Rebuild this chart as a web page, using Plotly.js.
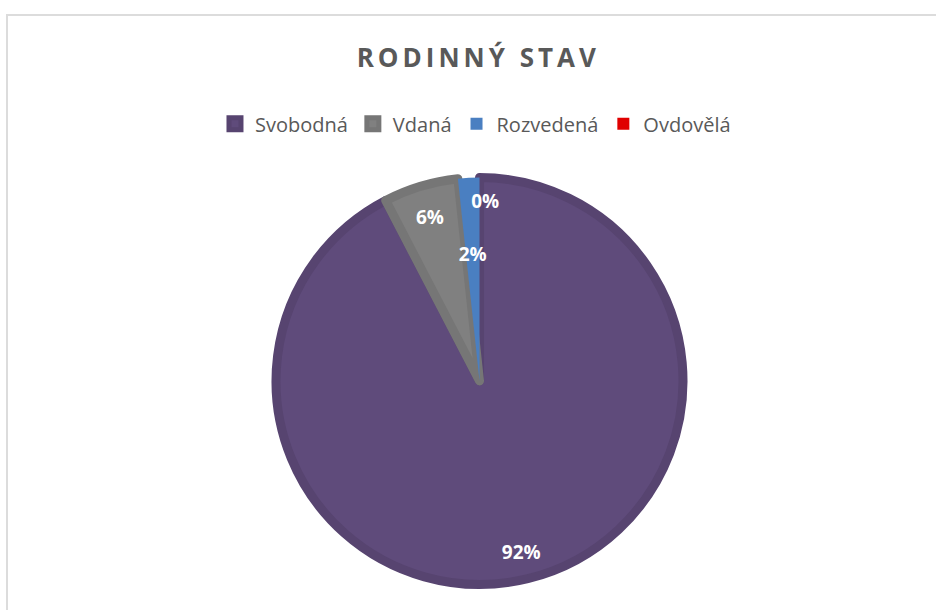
<!DOCTYPE html>
<html>
<head>
<meta charset="utf-8">
<script src="https://cdn.plot.ly/plotly-3.0.1.min.js"></script>
<style>
html, body { margin: 0; padding: 0; background: #ffffff; overflow: hidden; }
#chart { width: 936px; height: 610px; }
#frame { position: absolute; left: 6px; top: 14px; width: 960px; height: 640px;
         border-left: 2px solid #dcdcdc; border-top: 2px solid #dcdcdc; pointer-events: none; }
.gtitle { letter-spacing: 4px; }
</style>
</head>
<body>
<div id="chart"></div>
<div id="frame"></div>
<script>
// ---- data ----
const categories = ['Svobodná', 'Vdaná', 'Rozvedená', 'Ovdovělá'];
const counts = [109, 7, 2, 0];
const chartTitle = 'RODINNÝ STAV';

// ---- styles ----
const fillColors = ['#5f4b7b', '#808080', '#4a7fc1', '#e00000'];
const edgeColors = ['#574470', '#767676', '#4a7fc1', '#e00000'];
const edgeWidths = [9, 9, 0, 0];
const pct = '%{percent:.0%}';
const labelFont = { family: 'Open Sans, sans-serif', size: 19, color: '#ffffff', weight: 700 };
const clear = categories.map(() => 'rgba(0,0,0,0)');
const mainDomain = { x: [0.2949, 0.7297], y: [0.0418, 0.709] };

// which slice labels each pie layer shows (label placement like the original)
function labelsFor(indices) {
  return categories.map((c, i) => indices.includes(i) ? pct : '');
}

const mainPie = {
  type: 'pie',
  labels: categories,
  values: counts,
  sort: false,
  direction: 'clockwise',
  rotation: 0,
  marker: { colors: fillColors, line: { color: edgeColors, width: edgeWidths } },
  texttemplate: labelsFor([1]),
  textposition: 'inside',
  insidetextorientation: 'horizontal',
  textfont: labelFont,
  hoverinfo: 'none',
  domain: mainDomain,
  showlegend: true
};

// transparent label-only layers
function labelLayer(indices, domain, hole) {
  return {
    type: 'pie', labels: categories, values: counts, sort: false,
    direction: 'clockwise', rotation: 0, hole: hole,
    marker: { colors: clear, line: { width: 0 } },
    texttemplate: labelsFor(indices), textposition: 'inside',
    insidetextorientation: 'horizontal', textfont: labelFont,
    hoverinfo: 'none', showlegend: false,
    domain: domain
  };
}
const layerBig = labelLayer([0], mainDomain, 0.73);
const layerA = labelLayer([2], { x: [0.3691, 0.6554], y: [0.1557, 0.5951] }, 0);
const layerB = labelLayer([3], { x: [0.3260, 0.7106], y: [0.0803, 0.6705] }, 0);

const layout = {
  width: 936,
  height: 610,
  margin: { l: 0, r: 0, t: 0, b: 0 },
  paper_bgcolor: '#ffffff',
  plot_bgcolor: '#ffffff',
  title: {
    text: chartTitle,
    font: { family: 'Open Sans, sans-serif', size: 26, color: '#595959', weight: 700 },
    x: 0.511, xanchor: 'center',
    y: 0.905, yanchor: 'middle', yref: 'container'
  },
  legend: {
    orientation: 'h',
    x: 0.508, xanchor: 'center',
    y: 0.797, yanchor: 'middle', xref: 'paper', yref: 'paper',
    font: { family: 'Open Sans, sans-serif', size: 20, color: '#595959' },
    traceorder: 'normal'
  },
  uniformtext: { mode: 'show', minsize: 19 },
  showlegend: true
};

Plotly.newPlot('chart', [mainPie, layerBig, layerA, layerB], layout, { displayModeBar: false, staticPlot: true });
</script>
</body>
</html>
